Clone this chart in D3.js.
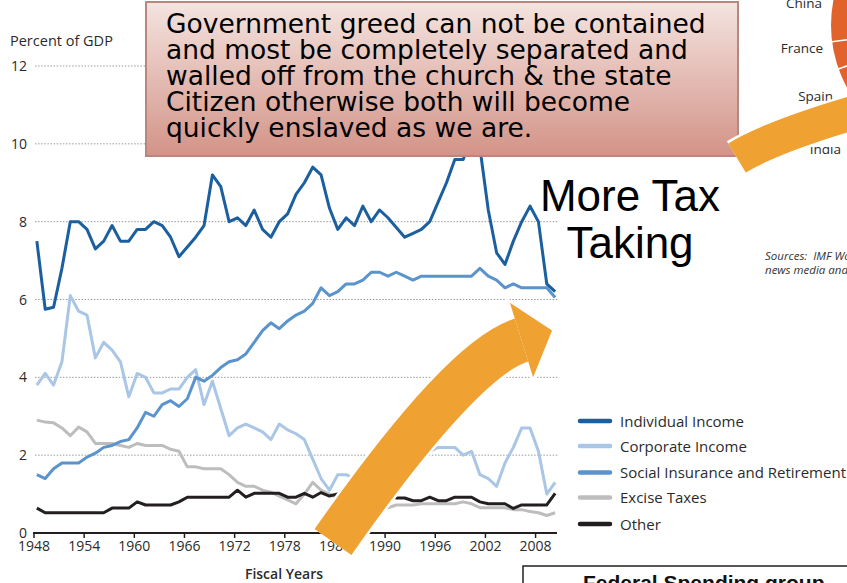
<!DOCTYPE html>
<html>
<head>
<meta charset="utf-8">
<script src="https://cdn.jsdelivr.net/npm/d3@7"></script>
<style>
  body { margin: 0; background: #fff; }
  svg { display: block; font-family: "Open Sans", sans-serif; }
</style>
</head>
<body>
<div id="chart"></div>
<script>
// receipts by source, percent of GDP, fiscal years 1948-2010
var firstYear = 1948;
var individualIncome = [7.5, 5.75, 5.8, 6.8, 8.0, 8.0, 7.8, 7.3, 7.5, 7.9,
  7.5, 7.5, 7.8, 7.8, 8.0, 7.9, 7.6, 7.1, 7.35, 7.6,
  7.9, 9.2, 8.9, 8.0, 8.1, 7.9, 8.3, 7.8, 7.6, 8.0,
  8.2, 8.7, 9.0, 9.4, 9.2, 8.35, 7.8, 8.1, 7.9, 8.4,
  8.0, 8.3, 8.1, 7.85, 7.6, 7.7, 7.8, 8.0, 8.5, 9.0,
  9.6, 9.6, 10.2, 9.9, 8.3, 7.2, 6.9, 7.5, 8.0, 8.4,
  8.0, 6.4, 6.2];
var corporateIncome = [3.8, 4.1, 3.8, 4.4, 6.1, 5.7, 5.6, 4.5, 4.9, 4.7,
  4.4, 3.5, 4.1, 4.0, 3.6, 3.6, 3.7, 3.7, 4.0, 4.2,
  3.3, 3.9, 3.2, 2.5, 2.7, 2.8, 2.7, 2.6, 2.4, 2.8,
  2.65, 2.55, 2.4, 1.9, 1.4, 1.1, 1.5, 1.5, 1.4, 1.8,
  1.9, 1.9, 1.6, 1.7, 1.65, 1.6, 1.9, 2.1, 2.2, 2.2,
  2.2, 2.0, 2.1, 1.5, 1.4, 1.2, 1.8, 2.2, 2.7, 2.7,
  2.1, 1.0, 1.3];
var socialInsurance = [1.5, 1.4, 1.65, 1.8, 1.8, 1.8, 1.95, 2.05, 2.2, 2.25,
  2.35, 2.4, 2.7, 3.1, 3.0, 3.3, 3.4, 3.25, 3.45, 4.0,
  3.9, 4.05, 4.25, 4.4, 4.45, 4.6, 4.9, 5.2, 5.4, 5.25,
  5.45, 5.6, 5.7, 5.9, 6.3, 6.1, 6.2, 6.4, 6.4, 6.5,
  6.7, 6.7, 6.6, 6.7, 6.6, 6.5, 6.6, 6.6, 6.6, 6.6,
  6.6, 6.6, 6.6, 6.8, 6.6, 6.5, 6.3, 6.4, 6.3, 6.3,
  6.3, 6.3, 6.05];
var exciseTaxes = [2.9, 2.85, 2.83, 2.7, 2.5, 2.72, 2.6, 2.3, 2.3, 2.3,
  2.25, 2.2, 2.3, 2.25, 2.25, 2.25, 2.15, 2.1, 1.7, 1.7,
  1.65, 1.65, 1.65, 1.5, 1.3, 1.2, 1.2, 1.1, 1.05, 0.95,
  0.85, 0.75, 1.0, 1.3, 1.1, 1.0, 0.9, 0.9, 0.8, 0.7,
  0.7, 0.68, 0.65, 0.72, 0.72, 0.72, 0.75, 0.75, 0.75, 0.75,
  0.75, 0.8, 0.75, 0.65, 0.65, 0.65, 0.65, 0.6, 0.6, 0.55,
  0.52, 0.45, 0.52];
var otherReceipts = [0.64, 0.52, 0.52, 0.52, 0.52, 0.52, 0.52, 0.52, 0.52, 0.64,
  0.64, 0.64, 0.8, 0.72, 0.72, 0.72, 0.72, 0.8, 0.92, 0.92,
  0.92, 0.92, 0.92, 0.92, 1.1, 0.92, 1.02, 1.02, 1.02, 1.02,
  0.92, 0.92, 1.02, 0.92, 1.04, 0.95, 1.0, 1.0, 0.95, 1.0,
  0.95, 0.95, 1.02, 0.9, 0.9, 0.83, 0.83, 0.92, 0.83, 0.83,
  0.92, 0.92, 0.92, 0.8, 0.75, 0.75, 0.75, 0.63, 0.72, 0.72,
  0.72, 0.72, 1.02];

var seriesNames = ["Individual Income", "Corporate Income", "Social Insurance and Retirement", "Excise Taxes", "Other"];
var seriesColors = ["#1b5f9f", "#a9c6e6", "#5b93cd", "#bdbdbd", "#231f20"];
var xTicks = [1948, 1954, 1960, 1966, 1972, 1978, 1984, 1990, 1996, 2002, 2008];
var yTicks = [0, 2, 4, 6, 8, 10, 12];

var noteLines = ["Government greed can not be contained",
  "and most be completely separated and",
  "walled off from the church & the state",
  "Citizen otherwise both will become",
  "quickly enslaved as we are."];
var countryLabels = ["China", "France", "Spain", "India"];

var W = 847, H = 583;
var svg = d3.select("#chart").append("svg").attr("width", W).attr("height", H);
svg.append("rect").attr("width", W).attr("height", H).attr("fill", "#fff");
var defs = svg.append("defs");

var x = d3.scaleLinear().domain([1948, 2010]).range([33.5, 551.8]);
var y = d3.scaleLinear().domain([0, 12]).range([533, 66]);

// grid
var grid = svg.append("g");
grid.selectAll("line").data(yTicks.filter(function(d) { return d > 0; })).enter().append("line")
  .attr("x1", 35).attr("x2", 558)
  .attr("y1", function(d) { return y(d); }).attr("y2", function(d) { return y(d); })
  .attr("stroke", "#9a9a9a").attr("stroke-width", 1).attr("stroke-dasharray", "1.5,1.6");

svg.append("g").selectAll("text").data(yTicks).enter().append("text")
  .attr("x", 27).attr("y", function(d) { return y(d) + 5; })
  .attr("text-anchor", "end").attr("font-size", 14).attr("fill", "#2b2b2b")
  .text(function(d) { return d; });

svg.append("text").attr("x", 10).attr("y", 46).attr("font-size", 14.5).attr("fill", "#2b2b2b")
  .text("Percent of GDP");

// lines
var series = [individualIncome, corporateIncome, socialInsurance, exciseTaxes, otherReceipts];
var line = d3.line()
  .x(function(d, i) { return x(firstYear + i + 0.4); })
  .y(function(d) { return y(d); });
var order = [3, 4, 1, 2, 0];
svg.append("g").selectAll("path").data(order).enter().append("path")
  .attr("d", function(k) { return line(series[k]); })
  .attr("fill", "none").attr("stroke", function(k) { return seriesColors[k]; })
  .attr("stroke-width", 3).attr("stroke-linejoin", "round");

// x axis
var xAxis = d3.axisBottom(x).tickValues(xTicks).tickFormat(d3.format("d")).tickSize(5).tickSizeOuter(0);
var ax = svg.append("g").attr("transform", "translate(0,533)").call(xAxis);
ax.select(".domain").remove();
ax.selectAll(".tick line").attr("stroke", "#231f20").attr("stroke-width", 1.5);
ax.selectAll(".tick text").attr("font-size", 14).attr("font-family", "Open Sans").attr("fill", "#2b2b2b").attr("dy", "0.85em").attr("y", 6);
svg.append("line").attr("x1", 33).attr("x2", 557).attr("y1", 533).attr("y2", 533)
  .attr("stroke", "#231f20").attr("stroke-width", 2);

svg.append("text").attr("x", 284).attr("y", 579).attr("text-anchor", "middle")
  .attr("font-size", 14).attr("font-weight", 600).attr("fill", "#2b2b2b").text("Fiscal Years");

// legend
var leg = svg.append("g").selectAll("g").data(seriesNames).enter().append("g")
  .attr("transform", function(d, i) { return "translate(0," + [421, 446, 472.5, 497.5, 524][i] + ")"; });
leg.append("line").attr("x1", 580).attr("x2", 610).attr("y1", 0).attr("y2", 0)
  .attr("stroke", function(d, i) { return seriesColors[i]; })
  .attr("stroke-width", 4.5).attr("stroke-linecap", "round");
leg.append("text").attr("x", 620).attr("y", 5.5).attr("font-size", 15).attr("fill", "#2b2b2b")
  .text(function(d) { return d; });

// partial pie and labels at top right
svg.append("circle").attr("cx", 961).attr("cy", 25).attr("r", 130).attr("fill", "#e2622b");
[[830, 42], [830, 72]].forEach(function(p) {
  svg.append("line").attr("x1", 961).attr("y1", 25).attr("x2", p[0]).attr("y2", p[1])
    .attr("stroke", "#fff").attr("stroke-width", 1.5);
});
defs.append("clipPath").attr("id", "lowClip").append("rect")
  .attr("x", 780).attr("y", 147).attr("width", 80).attr("height", 20);
svg.selectAll(".country").data(countryLabels).enter().append("text")
  .attr("x", function(d, i) { return [822, 823, 833, 841][i]; })
  .attr("y", function(d, i) { return [8, 53, 101, 154][i]; })
  .attr("clip-path", function(d, i) { return i == 3 ? "url(#lowClip)" : null; })
  .attr("text-anchor", "end").attr("font-size", 13.5).attr("fill", "#2b2b2b")
  .text(function(d) { return d; });

svg.append("text").attr("x", 765).attr("y", 260).attr("font-size", 11.5).attr("font-style", "italic")
  .attr("fill", "#333").style("white-space", "pre").text("Sources:  IMF World Economic Outlook");
svg.append("text").attr("x", 765).attr("y", 274).attr("font-size", 11.5).attr("font-style", "italic")
  .attr("fill", "#333").text("news media and other reports");

// bottom-right box
svg.append("rect").attr("x", 523).attr("y", 566).attr("width", 340).attr("height", 40)
  .attr("fill", "#fff").attr("stroke", "#222").attr("stroke-width", 1.5);
svg.append("text").attr("x", 583).attr("y", 590).attr("font-family", "Liberation Sans, Arial")
  .attr("font-weight", "bold").attr("font-size", 21).attr("fill", "#111").text("Federal Spending group");

// note box
var grad = defs.append("linearGradient").attr("id", "noteFill").attr("x1", 0).attr("y1", 0).attr("x2", 0).attr("y2", 1);
grad.append("stop").attr("offset", "0%").attr("stop-color", "#f4e4e0");
grad.append("stop").attr("offset", "100%").attr("stop-color", "#d39387");
svg.append("rect").attr("x", 146).attr("y", 2).attr("width", 592).attr("height", 154)
  .attr("fill", "url(#noteFill)").attr("stroke", "#b8887e").attr("stroke-width", 2);
svg.append("g").selectAll("text").data(noteLines).enter().append("text")
  .attr("x", 166).attr("y", function(d, i) { return 33 + i * 26; })
  .attr("font-family", "DejaVu Sans").attr("font-size", 26.5).attr("fill", "#000")
  .text(function(d) { return d; });

svg.append("text").attr("x", 630).attr("y", 211).attr("text-anchor", "middle")
  .attr("font-family", "Liberation Sans, Arial").attr("font-size", 44).attr("fill", "#000").text("More Tax");
svg.append("text").attr("x", 630).attr("y", 258).attr("text-anchor", "middle")
  .attr("font-family", "Liberation Sans, Arial").attr("font-size", 44).attr("fill", "#000").text("Taking");

// curved arrows
function drawArrow(p0, c, p2, width, headHalf, headLen) {
  var dx = p2[0] - c[0], dy = p2[1] - c[1], len = Math.sqrt(dx * dx + dy * dy);
  var t = [dx / len, dy / len], n = [-t[1], t[0]];
  var shaft = "M" + p0 + "Q" + c + " " + p2;
  var head = null;
  if (headLen > 0) {
    head = "M" + [p2[0] + n[0] * headHalf, p2[1] + n[1] * headHalf] +
      "L" + [p2[0] + t[0] * headLen, p2[1] + t[1] * headLen] +
      "L" + [p2[0] - n[0] * headHalf, p2[1] - n[1] * headHalf] + "Z";
  }
  var g = svg.append("g");
  g.append("path").attr("d", shaft).attr("fill", "none").attr("stroke", "#fff").attr("stroke-width", width + 5);
  if (head) g.append("path").attr("d", head).attr("fill", "#fff").attr("stroke", "#fff").attr("stroke-width", 5);
  g.append("path").attr("d", shaft).attr("fill", "none").attr("stroke", "#efa131").attr("stroke-width", width);
  if (head) g.append("path").attr("d", head).attr("fill", "#efa131");
}
drawArrow([333, 542], [461.5, 358.7], [521.5, 340], 45, 39, 32);
drawArrow([737, 158], [775, 135], [870, 108], 34, 0, 0);
</script>
</body>
</html>
